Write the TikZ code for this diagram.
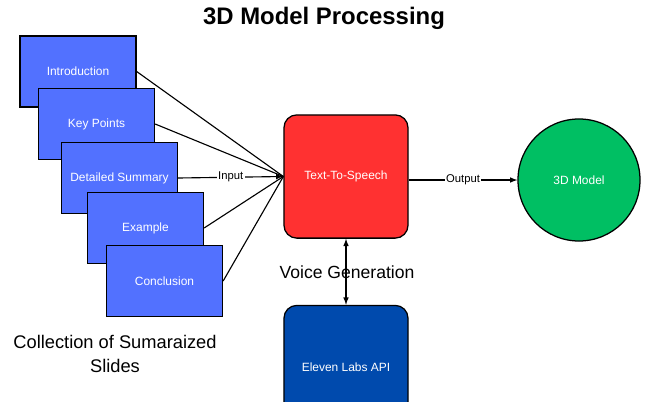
\documentclass[tikz,border=0pt]{standalone}
\usepackage{fontspec}
\setmainfont{Liberation Sans}
\usetikzlibrary{arrows}

\definecolor{slideblue}{RGB}{82,113,255}
\definecolor{ttsred}{RGB}{255,49,49}
\definecolor{apiblue}{RGB}{0,74,173}
\definecolor{modelgreen}{RGB}{0,191,99}

\tikzset{
  slide/.style={draw=black,line width=0.9pt,fill=slideblue,text=white,
    minimum width=2.9cm,minimum height=1.78cm,inner sep=0pt,
    font=\fontsize{8.5}{10}\selectfont},
  roundbox/.style={draw=black,line width=0.9pt,text=white,rounded corners=0.32cm,
    minimum width=3.1cm,minimum height=3.08cm,inner sep=0pt,
    font=\fontsize{8.5}{10}\selectfont},
  flowlabel/.style={fill=white,inner sep=1pt,font=\fontsize{8}{9}\selectfont}
}

\begin{document}
\begin{tikzpicture}[x=0.025cm,y=-0.025cm,line width=0.8pt]

\useasboundingbox (0,0) rectangle (649,401);
\clip (0,0) rectangle (649,401);

\node[font=\bfseries\fontsize{17}{19}\selectfont] (title) at (324,18) {3D Model Processing};

\node[slide] (intro) at (78,71.5) {Introduction};
\node[slide] (keypts) at (96.5,124) {Key Points};
\node[slide] (detail) at (119.5,178) {Detailed Summary};
\node[slide] (example) at (145.5,228) {Example};
\node[slide] (concl) at (164.5,281) {Conclusion};

\node[align=center,font=\fontsize{13}{17.5}\selectfont] (coll) at (115,354) {Collection of Sumaraized\\Slides};

\node[roundbox,fill=ttsred] (tts) at (346,176.5) {Text-To-Speech};
\node[roundbox,fill=apiblue] (eleven) at (346,367) {Eleven Labs API};
\node[circle,draw=black,line width=0.9pt,fill=modelgreen,text=white,minimum size=3.05cm,
  font=\fontsize{8.5}{10}\selectfont] (model) at (579,180) {3D Model};

\node[font=\fontsize{12.5}{14}\selectfont] (voice) at (347,272) {Voice Generation};

\draw (intro.east) -- (tts.west);
\draw (keypts.east) -- (tts.west);
\draw (example.east) -- (tts.west);
\draw (concl.east) -- (tts.west);
\draw[-latex] (detail.east) -- node[flowlabel] {Input} (tts.west);

\draw[-latex] (tts.east |- model.center) -- node[flowlabel] {Output} (model.west);

\draw[latex-latex] (tts.south) -- (eleven.north);

\end{tikzpicture}
\end{document}
